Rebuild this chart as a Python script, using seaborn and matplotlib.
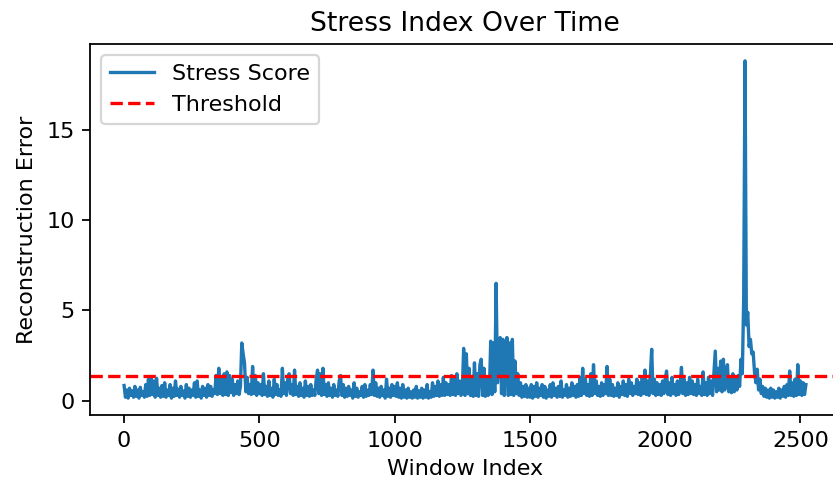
import numpy as np
import pandas as pd
import matplotlib
matplotlib.use("Agg")
import matplotlib.pyplot as plt
import seaborn as sns

# ---- data (one value every 5 windows) ----
STEP = 5
rows = [
    [0.85,0.2,0.6,0.15,0.7,0.3,0.55,0.2,0.8,0.25,0.6,0.15,0.75,0.3,0.5,0.2,0.9,0.25,1.2,0.3],
    [1.3,0.35,1.1,0.2,1.25,0.3,0.7,0.2,0.85,0.25,1.0,0.2,0.6,0.3,0.9,0.15,0.7,0.25,1.1,0.3],
    [0.65,0.2,0.8,0.3,0.55,0.15,0.9,0.25,0.7,0.2,0.6,0.3,1.0,0.2,1.1,0.25,0.6,0.15,0.8,0.3],
    [0.7,0.2,0.9,0.3,0.8,0.25,0.6,0.4,1.4,0.35,1.8,0.4,1.2,0.3,1.5,0.35,1.6,0.3,1.4,0.45],
    [1.2,0.3,0.9,0.4,1.1,0.35,0.8,3.2,2.6,2.1,0.5,1.3,0.4,0.9,0.35,1.9,0.4,1.4,0.3,1.0],
    [0.4,0.9,0.3,1.5,0.35,0.8,0.25,1.1,0.3,0.7,0.2,1.2,0.35,0.9,0.3,0.6,0.25,1.8,0.4,1.0],
    [0.3,1.2,1.5,0.4,0.9,0.3,1.7,0.35,0.8,0.25,1.0,0.3,0.7,0.2,1.1,0.3,0.8,0.25,0.9,0.3],
    [0.6,0.3,1.2,1.7,0.4,1.5,0.3,1.8,0.35,0.9,0.25,1.0,0.3,0.7,0.2,0.9,0.3,0.6,0.25,1.1],
    [1.4,0.3,0.9,0.2,0.7,0.25,0.8,0.3,0.6,0.15,1.0,0.25,0.7,0.2,0.5,0.3,0.8,0.2,0.9,0.25],
    [0.6,0.3,0.9,0.35,1.7,0.3,1.0,0.25,0.7,0.2,0.8,0.3,0.6,0.15,1.2,0.25,0.7,0.2,0.9,0.3],
    [0.8,0.25,1.0,0.2,0.7,0.15,0.9,0.2,0.6,0.15,0.7,0.2,0.5,0.15,0.6,0.2,0.8,0.15,0.55,0.2],
    [0.7,0.15,0.6,0.2,0.9,0.15,0.5,0.2,1.0,0.25,0.8,0.3,1.1,0.25,0.9,0.3,1.3,0.3,1.0,0.35],
    [0.9,0.3,1.4,0.35,1.2,0.3,1.5,0.4,1.1,0.3,0.5,2.9,0.3,2.6,0.4,1.8,0.3,1.2,0.25,2.1],
    [0.3,1.5,0.25,2.0,2.3,0.3,1.8,0.25,1.2,0.3,0.4,3.3,0.35,3.2,0.5,6.5,1.0,3.0,3.5,0.4],
    [3.4,0.3,2.5,3.5,0.3,3.2,0.35,3.4,0.3,2.2,0.4,1.5,0.3,1.0,0.2,0.8,0.25,0.9,0.2,0.7],
    [0.2,0.9,0.15,0.8,0.25,1.0,0.2,0.7,0.3,0.9,0.2,0.8,0.15,0.6,0.25,0.9,0.2,1.0,0.3,0.7],
    [0.2,0.8,0.25,1.1,0.2,0.6,0.3,0.9,0.2,0.7,0.25,1.0,0.3,0.8,0.2,0.9,0.25,1.3,0.3,1.8],
    [0.4,1.2,0.3,0.9,0.25,1.5,0.3,2.0,0.4,1.1,0.3,0.8,0.25,1.0,0.3,0.9,0.4,1.9,0.3,1.2],
    [0.3,0.9,0.25,0.7,0.3,1.0,0.2,0.8,0.35,1.1,0.3,0.9,0.25,1.2,0.4,1.0,0.3,0.8,0.4,1.2],
    [0.35,1.0,0.3,1.3,0.4,1.7,0.35,1.1,0.3,1.4,2.85,0.4,1.2,0.3,1.0,0.35,0.9,0.3,1.1,0.4],
    [1.2,1.65,0.35,1.0,0.3,1.3,0.4,0.9,0.3,1.1,0.35,0.8,1.85,0.4,1.2,0.3,1.0,0.35,1.3,0.4],
    [1.1,0.35,0.9,0.3,1.2,0.4,0.8,0.3,1.6,0.35,1.0,0.3,1.3,0.4,1.1,0.3,1.5,2.75,0.5,1.8],
    [0.6,2.2,0.5,2.3,0.6,1.4,2.0,0.5,1.2,0.45,1.5,0.5,1.3,0.6,1.4,0.8,2.3,1.5,5.6,18.8],
    [4.2,4.9,3.0,3.4,2.6,2.7,1.6,1.0,1.75,0.6,1.2,0.4,0.8,0.25,0.7,0.2,0.6,0.15,0.7,0.2],
    [0.6,0.15,0.5,0.2,0.7,0.15,0.6,0.25,0.8,0.2,0.9,0.3,1.65,0.3,1.0,0.25,1.2,0.3,2.0,0.35],
    [1.1,0.3,1.0,0.35,0.9],
]
stress_score = [v for r in rows for v in r]
window_index = list(range(0, len(stress_score) * STEP, STEP))
threshold = 1.35

title = "Stress Index Over Time"
xlabel = "Window Index"
ylabel = "Reconstruction Error"

df = pd.DataFrame({"Window Index": window_index, "Stress Score": stress_score})

DPI = 160
fig = plt.figure(figsize=(833 / DPI, 488 / DPI), dpi=DPI)
ax = fig.add_axes([90 / 833, (488 - 415) / 488, 750 / 833, 371 / 488])

sns.lineplot(data=df, x="Window Index", y="Stress Score", ax=ax,
             color="#1f77b4", linewidth=1.5, label="Stress Score")
ax.axhline(threshold, color="red", linestyle="--", linewidth=1.5, label="Threshold")

ax.set_title(title)
ax.set_xlabel(xlabel)
ax.set_ylabel(ylabel)
ax.set_yticks([0, 5, 10, 15])
ax.legend(loc="upper left")

fig.savefig("out.png", dpi=DPI)
